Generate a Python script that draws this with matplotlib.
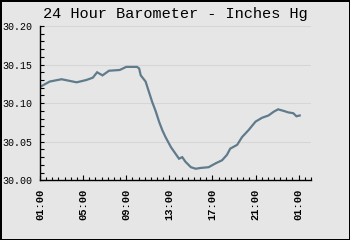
import matplotlib
matplotlib.use('Agg')
import matplotlib.pyplot as plt
import numpy as np

# hours after 01:00 and pressure (inches Hg)
hours = [0.0, 0.9, 2.0, 3.4, 4.3, 4.9, 5.3, 5.8, 6.4, 7.4, 8.0, 9.0, 9.2,
         9.35, 9.8, 10.1, 10.4, 10.75, 11.05, 11.35, 11.65, 12.15, 12.6,
         12.9, 13.2, 13.5, 14.0, 14.45, 14.9, 15.65, 16.3, 16.9, 17.35,
         17.65, 18.3, 18.75, 19.35, 20.0, 20.6, 21.2, 21.7, 22.1, 22.6,
         23.05, 23.5, 23.8, 24.1]
pressure = [30.121, 30.128, 30.131, 30.127, 30.130, 30.133, 30.140, 30.136,
            30.142, 30.143, 30.147, 30.147, 30.145, 30.136, 30.128, 30.115,
            30.102, 30.089, 30.076, 30.065, 30.056, 30.043, 30.034, 30.028,
            30.030, 30.024, 30.017, 30.015, 30.016, 30.017, 30.022, 30.026,
            30.033, 30.041, 30.046, 30.056, 30.065, 30.076, 30.081, 30.084,
            30.089, 30.092, 30.090, 30.088, 30.087, 30.083, 30.084]

tick_hours = [0, 4, 8, 12, 16, 20, 24]
tick_labels = ['01:00', '05:00', '09:00', '13:00', '17:00', '21:00', '01:00']
y_ticks = [30.00, 30.05, 30.10, 30.15, 30.20]

bg = '#e6e6e6'
mono = 'Liberation Mono'

fig = plt.figure(figsize=(3.5, 2.4), dpi=100, facecolor=bg,
                 edgecolor='black', linewidth=1)
ax = fig.add_axes([40 / 350, 1 - 180.3 / 240, 271 / 350, 154.3 / 240])
ax.set_facecolor(bg)

ax.plot(hours, pressure, color='#5f7b8c', lw=1.6, solid_joinstyle='miter')

ax.set_xlim(0, 25.15)
ax.set_ylim(30.0, 30.2)

ax.set_xticks(tick_hours)
ax.set_xticklabels(tick_labels, rotation=90, fontfamily=mono,
                   fontweight='bold', fontsize=7.5)
ax.set_xticks(np.arange(0, 25.2, 4 / 7), minor=True)
ax.set_yticks(y_ticks)
ax.set_yticklabels(['%.2f' % v for v in y_ticks], fontfamily=mono, fontsize=7.2)
ax.set_yticks(np.arange(30.0, 30.2001, 0.01), minor=True)

ax.tick_params(axis='x', which='major', direction='in', length=3.6,
               width=0.8, pad=6)
ax.tick_params(axis='x', which='minor', direction='in', length=2.2, width=0.8)
ax.tick_params(axis='y', which='both', direction='in', length=3, width=0.8,
               pad=5.5)

ax.grid(axis='y', color='#d6d6d6', lw=0.8)
ax.set_axisbelow(True)
for s in ['top', 'right']:
    ax.spines[s].set_visible(False)
for s in ['left', 'bottom']:
    ax.spines[s].set_linewidth(1.0)

fig.text(0.5, 1 - 14 / 240, '24 Hour Barometer - Inches Hg', ha='center',
         va='center', fontfamily=mono, fontsize=11)

fig.savefig('out.png', dpi=100, facecolor=bg, edgecolor='black')
